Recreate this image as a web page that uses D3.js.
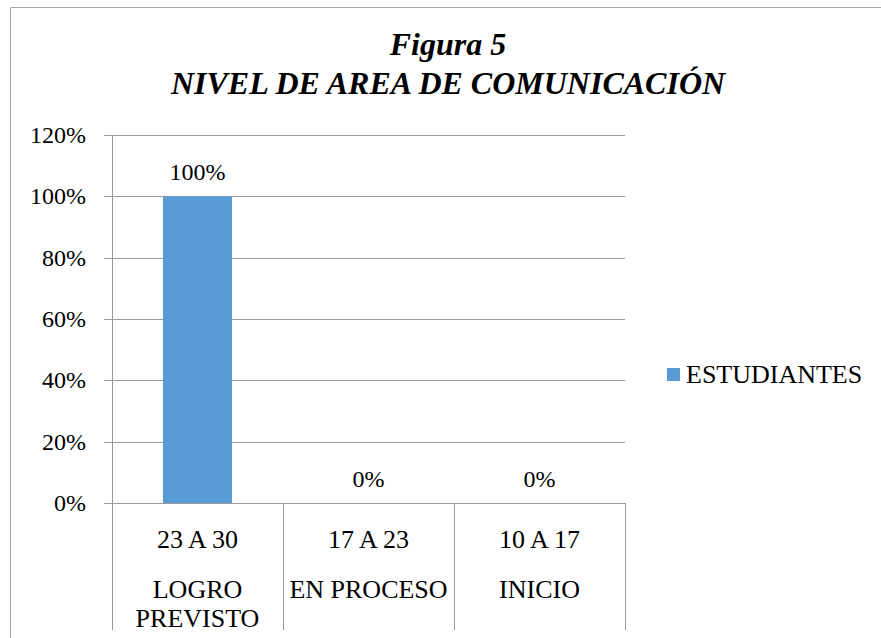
<!DOCTYPE html>
<html>
<head>
<meta charset="utf-8">
<script src="https://cdn.jsdelivr.net/npm/d3@7"></script>
</head>
<body>
<script>
// chart values
var ranges = ["23 A 30", "17 A 23", "10 A 17"];
var levels = [["LOGRO", "PREVISTO"], ["EN PROCESO"], ["INICIO"]];
var estudiantes = [1.0, 0.0, 0.0];
var yTicks = [0, 0.2, 0.4, 0.6, 0.8, 1.0, 1.2];
var seriesName = "ESTUDIANTES";
var titleLines = ["Figura 5", "NIVEL DE AREA DE COMUNICACIÓN"];

var width = 881,
    height = 638;
var FONT = "'Liberation Serif', serif";
var gridColor = "#9a9a9a";

d3.select("body").style("margin", "0px");

var svg = d3.select("body").append("svg")
    .attr("width", width)
    .attr("height", height);

// outer chart frame (only top and left visible)
svg.append("path")
    .attr("d", "M10.5," + height + "V7.5H" + width)
    .attr("fill", "none")
    .attr("stroke", "#a6a6a6")
    .attr("stroke-width", 1);

var plot = {left: 112, right: 625, top: 135, bottom: 503};

var x = d3.scaleBand()
    .domain(ranges)
    .range([plot.left, plot.right])
    .paddingInner(0)
    .paddingOuter(0);

var y = d3.scaleLinear()
    .domain([0, 1.2])
    .range([plot.bottom, plot.top]);

// gridlines (with small tick stub on the left)
svg.selectAll(".grid")
    .data(yTicks)
    .enter().append("line")
    .attr("class", "grid")
    .attr("x1", plot.left - 8)
    .attr("x2", plot.right)
    .attr("y1", function(d) { return Math.round(y(d)) + 0.5; })
    .attr("y2", function(d) { return Math.round(y(d)) + 0.5; })
    .attr("stroke", gridColor)
    .attr("stroke-width", 1);

// y axis line
svg.append("line")
    .attr("x1", plot.left + 0.5).attr("x2", plot.left + 0.5)
    .attr("y1", plot.top).attr("y2", plot.bottom)
    .attr("stroke", gridColor);

// y tick labels
svg.selectAll(".ytick")
    .data(yTicks)
    .enter().append("text")
    .attr("class", "ytick")
    .attr("x", 86)
    .attr("y", function(d) { return y(d) + 8; })
    .attr("text-anchor", "end")
    .attr("font-size", "24px")
    .style("font-family", FONT)
    .text(function(d) { return d3.format(".0%")(d); });

// category dividers
var dividers = ranges.map(function(r) { return x(r); }).concat([plot.right]);
svg.selectAll(".divider")
    .data(dividers)
    .enter().append("line")
    .attr("class", "divider")
    .attr("x1", function(d) { return Math.round(d) + 0.5; })
    .attr("x2", function(d) { return Math.round(d) + 0.5; })
    .attr("y1", plot.bottom)
    .attr("y2", 630)
    .attr("stroke", gridColor);

// bars
var barW = 69;
svg.selectAll(".bar")
    .data(estudiantes)
    .enter().append("rect")
    .attr("class", "bar")
    .attr("x", function(d, i) { return x(ranges[i]) + x.bandwidth() / 2 - barW / 2; })
    .attr("y", function(d) { return y(d); })
    .attr("width", barW)
    .attr("height", function(d) { return y(0) - y(d); })
    .attr("fill", "#5b9bd5");

// data labels
svg.selectAll(".dlabel")
    .data(estudiantes)
    .enter().append("text")
    .attr("class", "dlabel")
    .attr("x", function(d, i) { return x(ranges[i]) + x.bandwidth() / 2; })
    .attr("y", function(d) { return y(d) - 16; })
    .attr("text-anchor", "middle")
    .attr("font-size", "24px")
    .style("font-family", FONT)
    .text(function(d) { return d3.format(".0%")(d); });

// category labels, first level
svg.selectAll(".cat1")
    .data(ranges)
    .enter().append("text")
    .attr("class", "cat1")
    .attr("x", function(d) { return x(d) + x.bandwidth() / 2; })
    .attr("y", 548)
    .attr("text-anchor", "middle")
    .attr("font-size", "26px")
    .style("font-family", FONT)
    .text(function(d) { return d; });

// category labels, second level (one text per line)
var lines2 = [];
levels.forEach(function(l, i) {
    l.forEach(function(s, j) { lines2.push({s: s, i: i, j: j}); });
});
svg.selectAll(".cat2")
    .data(lines2)
    .enter().append("text")
    .attr("class", "cat2")
    .attr("x", function(d) { return x(ranges[d.i]) + x.bandwidth() / 2; })
    .attr("y", function(d) { return 598 + d.j * 29; })
    .attr("text-anchor", "middle")
    .attr("font-size", "26px")
    .style("font-family", FONT)
    .text(function(d) { return d.s; });

// title
svg.selectAll(".title")
    .data(titleLines)
    .enter().append("text")
    .attr("class", "title")
    .attr("x", 448)
    .attr("y", function(d, i) { return 55 + i * 39; })
    .attr("text-anchor", "middle")
    .attr("font-size", "32px")
    .attr("font-weight", "bold")
    .attr("font-style", "italic")
    .style("font-family", FONT)
    .text(function(d) { return d; });

// legend
svg.append("rect")
    .attr("x", 667)
    .attr("y", 368)
    .attr("width", 13)
    .attr("height", 13)
    .attr("fill", "#5b9bd5");
svg.append("text")
    .attr("x", 686)
    .attr("y", 383)
    .attr("font-size", "26px")
    .style("font-family", FONT)
    .text(seriesName);
</script>
</body>
</html>
